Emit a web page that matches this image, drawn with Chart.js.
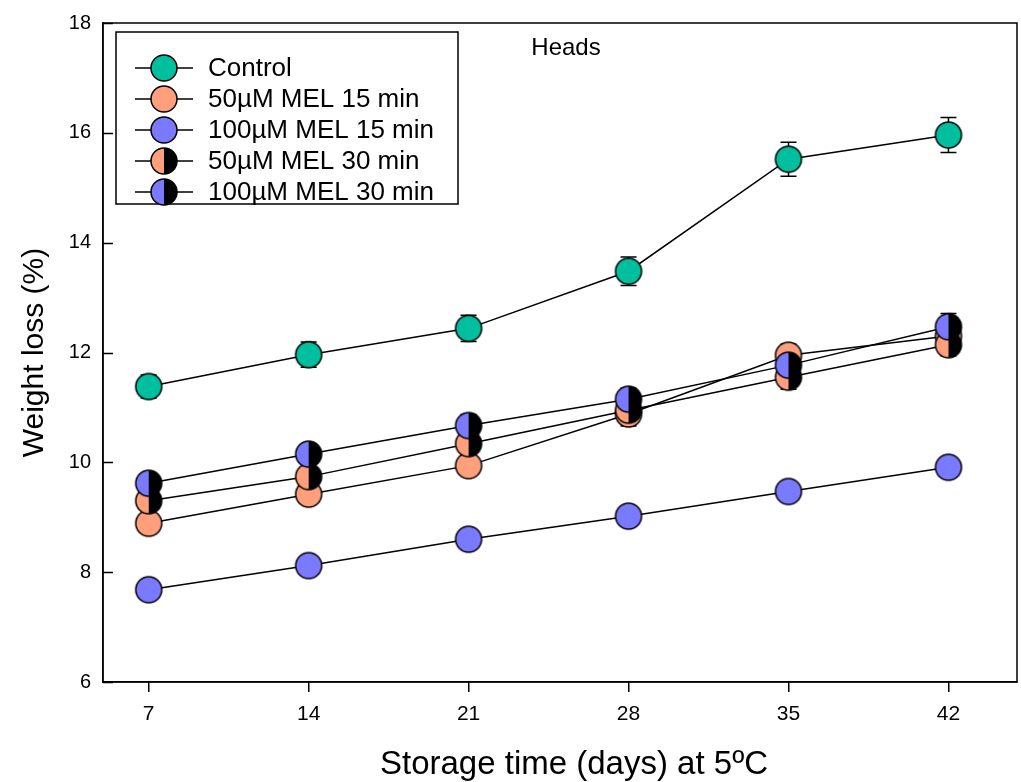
<!DOCTYPE html>
<html>
<head>
<meta charset="utf-8">
<script src="https://cdn.jsdelivr.net/npm/chart.js@4"></script>
<style>
  html, body { margin: 0; padding: 0; background: #fff; overflow: hidden; }
  canvas { display: block; }
</style>
</head>
<body>
<canvas id="lossChart" width="1021" height="782"></canvas>
<script>
// storage days and tick values
const days = [7, 14, 21, 28, 35, 42];
const xTicks = [7, 14, 21, 28, 35, 42];
const yTicks = [6, 8, 10, 12, 14, 16, 18];

// weight loss (%) per treatment, with standard error
const control = [11.38, 11.96, 12.44, 13.48, 15.52, 15.96];
const controlErr = [0.21, 0.23, 0.24, 0.26, 0.31, 0.32];
const mel50x15 = [8.89, 9.42, 9.94, 10.88, 11.95, 12.30];
const mel50x15Err = [0.12, 0.15, 0.15, 0.22, 0.20, 0.20];
const mel100x15 = [7.68, 8.12, 8.60, 9.02, 9.47, 9.91];
const mel100x15Err = [0.10, 0.10, 0.10, 0.10, 0.12, 0.12];
const mel50x30 = [9.30, 9.74, 10.34, 10.95, 11.55, 12.14];
const mel50x30Err = [0.15, 0.15, 0.20, 0.25, 0.22, 0.20];
const mel100x30 = [9.62, 10.15, 10.67, 11.15, 11.77, 12.47];
const mel100x30Err = [0.15, 0.18, 0.20, 0.20, 0.20, 0.24];

const labels = ['Control', '50µM MEL 15 min', '100µM MEL 15 min', '50µM MEL 30 min', '100µM MEL 30 min'];

const TEAL = '#00bf9f';
const SALMON = '#ff9f7b';
const LILAC = '#7a7aff';

// circle marker, optionally with the right half black
function makeMarker(fill, half) {
  const r = 13, size = 30;
  const c = document.createElement('canvas');
  c.width = size; c.height = size;
  const g = c.getContext('2d');
  const m = size / 2;
  g.beginPath(); g.arc(m, m, r, 0, Math.PI * 2); g.fillStyle = fill; g.fill();
  if (half) {
    g.beginPath(); g.moveTo(m, m - r); g.arc(m, m, r, -Math.PI / 2, Math.PI / 2); g.closePath();
    g.fillStyle = '#000'; g.fill();
  }
  g.beginPath(); g.arc(m, m, r, 0, Math.PI * 2);
  g.lineWidth = 1.5; g.strokeStyle = '#000'; g.stroke();
  return c;
}

const series = [
  { data: control, err: controlErr, marker: makeMarker(TEAL, false), order: 4 },
  { data: mel50x15, err: mel50x15Err, marker: makeMarker(SALMON, false), order: 3 },
  { data: mel100x15, err: mel100x15Err, marker: makeMarker(LILAC, false), order: 5 },
  { data: mel50x30, err: mel50x30Err, marker: makeMarker(SALMON, true), order: 2 },
  { data: mel100x30, err: mel100x30Err, marker: makeMarker(LILAC, true), order: 1 }
];

const datasets = series.map((s, i) => ({
  label: labels[i],
  data: s.data.map((v, j) => ({ x: days[j], y: v })),
  err: s.err,
  order: s.order,
  borderColor: '#000',
  borderWidth: 1.5,
  pointStyle: s.marker,
  pointRadius: 13,
  pointHoverRadius: 13,
  tension: 0,
  clip: false
}));

// error bars behind markers
const errorBars = {
  id: 'errorBars',
  beforeDatasetsDraw(chart) {
    const { ctx, scales: { x, y } } = chart;
    ctx.save();
    ctx.strokeStyle = '#000';
    ctx.lineWidth = 1.5;
    chart.data.datasets.forEach(ds => {
      ds.data.forEach((p, j) => {
        const px = x.getPixelForValue(p.x);
        const top = y.getPixelForValue(p.y + ds.err[j]);
        const bot = y.getPixelForValue(p.y - ds.err[j]);
        ctx.beginPath();
        ctx.moveTo(px, top); ctx.lineTo(px, bot);
        ctx.moveTo(px - 8, top); ctx.lineTo(px + 8, top);
        ctx.moveTo(px - 8, bot); ctx.lineTo(px + 8, bot);
        ctx.stroke();
      });
    });
    ctx.restore();
  }
};

// closed frame, inward y ticks, titles and legend box
const frame = {
  id: 'frame',
  afterDraw(chart) {
    const { ctx, chartArea: a, scales: { y } } = chart;
    ctx.save();
    ctx.strokeStyle = '#000';
    ctx.lineWidth = 1.5;
    ctx.strokeRect(a.left, a.top, a.right - a.left, a.bottom - a.top);
    ctx.beginPath();
    yTicks.forEach(v => {
      const py = Math.round(y.getPixelForValue(v)) + 0.5;
      ctx.moveTo(a.left, py); ctx.lineTo(a.left + 10, py);
    });
    ctx.stroke();

    ctx.fillStyle = '#000';
    ctx.textAlign = 'center';
    ctx.textBaseline = 'middle';
    ctx.font = '24px "Liberation Sans", Arial, sans-serif';
    ctx.fillText('Heads', 566, 48);
    ctx.font = '33px "Liberation Sans", Arial, sans-serif';
    ctx.fillText('Storage time (days) at 5ºC', 574, 765);

    // legend
    ctx.strokeRect(116, 32, 342, 172);
    ctx.font = '26px "Liberation Sans", Arial, sans-serif';
    ctx.textAlign = 'left';
    series.forEach((s, i) => {
      const ly = 68 + i * 31;
      ctx.beginPath();
      ctx.moveTo(135, ly); ctx.lineTo(193, ly);
      ctx.stroke();
      ctx.drawImage(s.marker, 164 - s.marker.width / 2, ly - s.marker.height / 2);
      ctx.fillText(labels[i], 208, ly + 1);
    });
    ctx.restore();
  }
};

new Chart(document.getElementById('lossChart'), {
  type: 'line',
  data: { datasets },
  options: {
    responsive: false,
    animation: false,
    events: [],
    layout: { autoPadding: false, padding: { top: 23, right: 4, left: 17, bottom: 0 } },
    plugins: { legend: { display: false }, tooltip: { enabled: false } },
    scales: {
      x: {
        type: 'linear',
        min: 5,
        max: 45,
        afterBuildTicks: s => { s.ticks = xTicks.map(v => ({ value: v })); },
        afterFit: s => { s.height = 100; },
        grid: { display: true, drawOnChartArea: false, drawTicks: true, tickLength: 10, color: '#000', lineWidth: 1.5 },
        border: { display: true, color: '#000', width: 1.5 },
        ticks: {
          color: '#000',
          padding: 10,
          font: { family: '"Liberation Sans", Arial', size: 21 }
        }
      },
      y: {
        min: 6,
        max: 18,
        afterBuildTicks: s => { s.ticks = yTicks.map(v => ({ value: v })); },
        afterFit: s => { s.width = 86; },
        grid: { display: false },
        border: { display: true, color: '#000', width: 1.5 },
        ticks: {
          color: '#000',
          padding: 4,
          font: { family: '"Liberation Sans", Arial', size: 20 }
        },
        title: {
          display: true,
          text: 'Weight loss (%)',
          color: '#000',
          padding: { top: 0, bottom: 8 },
          font: { family: '"Liberation Sans", Arial', size: 30 }
        }
      }
    }
  },
  plugins: [errorBars, frame]
});
</script>
</body>
</html>
